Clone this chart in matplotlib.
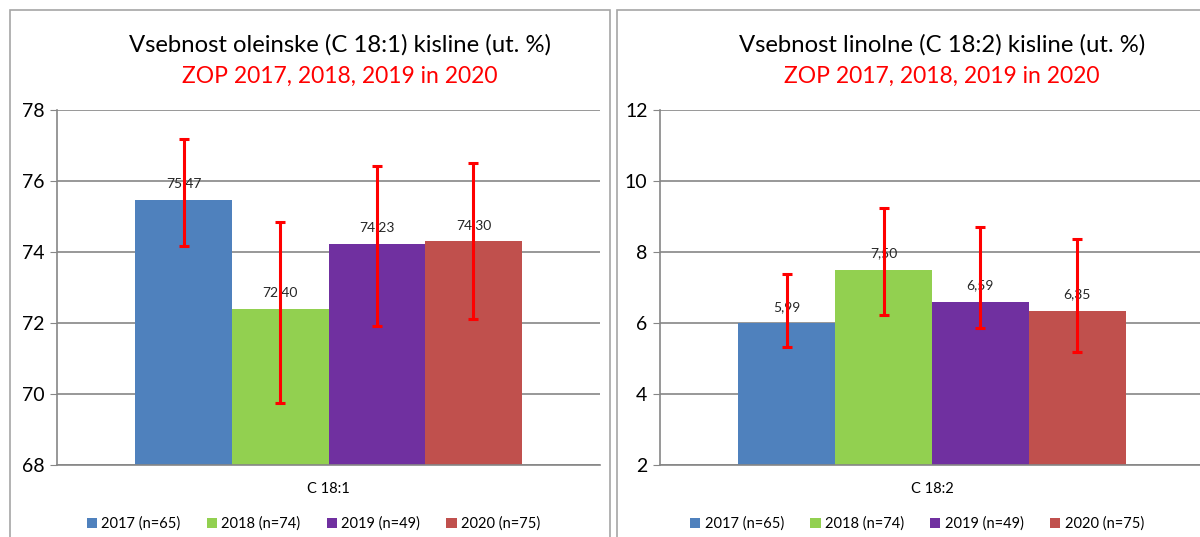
import matplotlib
matplotlib.use('Agg')
import numpy as np
import matplotlib.pyplot as plt
from matplotlib.patches import Rectangle

plt.rcParams['font.family'] = ['Lato', 'DejaVu Sans']

# podatki
leta = ['2017 (n=65)', '2018 (n=74)', '2019 (n=49)', '2020 (n=75)']
barve = ['#4F81BD', '#92D050', '#7030A0', '#C0504D']

olein = [75.47, 72.40, 74.23, 74.30]
olein_zg = [77.17, 74.85, 76.43, 76.50]
olein_sp = [74.18, 69.76, 71.92, 72.11]

linol = [5.99, 7.50, 6.59, 6.35]
linol_zg = [7.38, 9.23, 8.71, 8.36]
linol_sp = [5.32, 6.22, 5.86, 5.19]

W, H = 1200, 537
fig = plt.figure(figsize=(12, 5.37), dpi=100)

# okvirja panelov
fig.patches.append(Rectangle((10 / W, -0.1), 600 / W, 1.1 - 10 / H, transform=fig.transFigure,
                             fill=False, edgecolor='#A6A6A6', lw=1.2))
fig.patches.append(Rectangle((617 / W, -0.1), 0.6, 1.1 - 10 / H, transform=fig.transFigure,
                             fill=False, edgecolor='#A6A6A6', lw=1.2))


def panel(x0, x1, vals, zg, sp, ymin, ymax, kat, naslov, cx):
    ax = fig.add_axes([x0 / W, (H - 465) / H, (x1 - x0) / W, 355 / H])
    sirina = 0.178
    pos = (np.arange(4) - 1.5) * sirina
    vals = np.array(vals)
    err = [vals - np.array(sp), np.array(zg) - vals]
    bars = ax.bar(pos, vals, width=sirina, color=barve, label=leta, zorder=2)
    ax.errorbar(pos, vals, yerr=err, fmt='none', ecolor='#FF0000', elinewidth=2.2,
                capsize=3.5, capthick=2.2, zorder=4)
    for p, v in zip(pos, vals):
        ax.annotate(f'{v:.2f}'.replace('.', ','), (p, v), xytext=(0, 12),
                    textcoords='offset points', ha='center', va='center',
                    fontsize=10, color='#262626', zorder=3)
    ax.set_xlim(-0.5, 0.5)
    ax.set_ylim(ymin, ymax)
    ax.set_yticks(np.arange(ymin, ymax + 1, 2))
    ax.set_xticks([0])
    ax.set_xticklabels([kat], fontsize=10.5)
    ax.tick_params(axis='x', length=0, pad=12)
    ax.tick_params(axis='y', labelsize=14, length=5, color='#868686', pad=4)
    ax.grid(axis='y', color='#868686', lw=1.2, zorder=0)
    for s in ['top', 'right']:
        ax.spines[s].set_visible(False)
    for s in ['left', 'bottom']:
        ax.spines[s].set_color('#868686')
        ax.spines[s].set_linewidth(1.2)
    ax.set_facecolor('none')
    fig.text(cx / W, 1 - 45 / H, naslov, ha='center', va='center', fontsize=17.2, color='black')
    fig.text(cx / W, 1 - 76 / H, 'ZOP 2017, 2018, 2019 in 2020', ha='center', va='center',
             fontsize=16.5, color='#FF0000')
    ax.legend(handles=bars.patches, labels=leta, ncol=4, frameon=False, fontsize=10.5,
              loc='center', bbox_to_anchor=(0.5 - 15 / (x1 - x0), -0.165),
              handlelength=0.7, handleheight=0.7, handletextpad=0.3, columnspacing=1.8)
    return ax


panel(57, 600, olein, olein_zg, olein_sp, 68, 78, 'C 18:1',
      'Vsebnost oleinske (C 18:1) kisline (ut. %)', 340)
panel(660, 1204, linol, linol_zg, linol_sp, 2, 12, 'C 18:2',
      'Vsebnost linolne (C 18:2) kisline (ut. %)', 942)

fig.savefig('out.png', dpi=100)
